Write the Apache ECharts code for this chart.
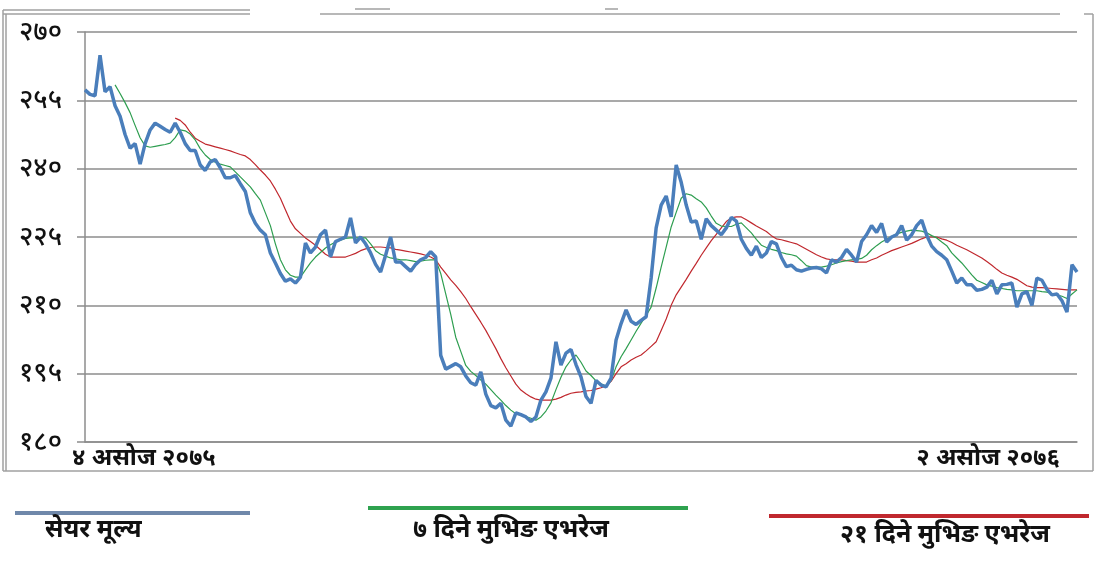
<!DOCTYPE html>
<html>
<head>
<meta charset="utf-8">
<script src="https://cdn.jsdelivr.net/npm/echarts@6/dist/echarts.min.js"></script>
<style>
  html, body { margin: 0; padding: 0; background: #fff; }
  #MyChart { width: 1100px; height: 563px; }
</style>
</head>
<body>
<div id="MyChart"></div>
<script>
// y-axis tick labels (Devanagari numerals)
var yTickLabels = ['१८०', '१९५', '२१०', '२२५', '२४०', '२५५', '२७०'];
// first and last date on the x axis
var xTickLabels = ['४ असोज २०७५', '२ असोज २०७६'];
var seriesNames = ['सेयर मूल्य', '७ दिने मुभिङ एभरेज', '२१ दिने मुभिङ एभरेज'];

// share price
var priceData = [
    257.3, 256.3, 256, 264.9, 256.9, 258, 253.8, 251.5, 247.5, 244.5,
    245.5, 241, 245.5, 248.5, 250, 249.3, 248.6, 248, 250, 248,
    245.5, 244, 244, 240.8, 239.6, 241.5, 242, 240.2, 238, 238,
    238.5, 236.7, 235, 230.3, 228, 226.5, 225.5, 221.5, 219.3, 217,
    215.3, 215.8, 214.9, 216.2, 223.7, 221.5, 222.8, 225.5, 226.5, 220.6,
    224, 224.5, 225, 229.2, 223.7, 225, 223.5, 221.5, 219, 217.3,
    221, 225, 219.5, 219.5, 218.5, 217.5, 219, 220, 220.5, 221.8,
    220.6, 199, 196, 196.6, 197.2, 196.5, 194.5, 193, 192.5, 195.4,
    190.5, 188, 187.5, 188.5, 184.8, 183.5, 186.4, 186, 185.5, 184.5,
    185.5, 189.2, 191, 194, 202, 196.9, 199.5, 200.3, 197, 194.3,
    190, 188.5, 193.5, 192.5, 192.1, 194, 202.4, 206, 209, 206.5,
    205.8, 206.7, 207.5, 216, 227, 232, 234, 229.4, 240.8, 237,
    232, 228.3, 228.5, 224.5, 229, 227.5, 226.5, 225.5, 227, 229.3,
    228.5, 224.5, 222.5, 221, 223, 220.5, 221.5, 224, 223.5, 220.5,
    218.5, 218.8, 217.8, 217.5, 217.9, 218.2, 218.3, 218, 217.1, 220,
    219.5, 220.5, 222.3, 221, 219.5, 224, 225.5, 227.5, 226, 228,
    223.9, 225, 225.5, 227.5, 224.3, 225.5, 227.5, 228.7, 225.4, 223,
    221.8, 221, 220, 217.5, 214.9, 216, 214.5, 214.5, 213.3, 213.5,
    214, 215.5, 212.5, 214.5, 214.6, 214.9, 209.6, 212.5, 213, 210,
    216, 215.5, 213.5, 212.3, 212.5, 211, 208.5, 218.9, 217.3
];

// 7 day moving average
var ma7Data = [
    null, null, null, null, null, null, 258.4, 256.5, 254.5, 252.3,
    249.5, 246.8, 245, 244.7, 244.9, 245.1, 245.3, 245.6, 246.8, 248.5,
    248.3, 247.6, 246.3, 244.4, 243, 242, 241.4, 241, 240.7, 240.4,
    239.3, 238.2, 237.1, 236, 234.5, 233.1, 230.3, 227.5, 223.5, 220,
    217.8, 216.6, 216.2, 216.2, 217.8, 219.3, 220.6, 221.6, 222.6, 223.3,
    223.9, 224.3, 224.7, 224.8, 224.8, 224.8, 224.8, 223.5, 222, 221.2,
    220.8, 220.4, 220.2, 220, 220, 219.8, 219.6, 219.7, 219.9, 220,
    220, 217, 212.5, 208, 203, 199.9, 196.8, 195.5, 194.6, 193.6,
    192.7, 191.5, 190.3, 189.2, 188, 187, 186.2, 185.9, 185.6, 185.2,
    184.8, 185.5, 186.8, 188.6, 191.5, 194.2, 196.5, 198, 199.1, 197.5,
    195.6, 194.6, 193.4, 192.8, 192.3, 193.5, 196.5, 198.7, 200.5, 202.4,
    204.3, 206.1, 207.8, 209.6, 213.8, 218.4, 222.8, 227.2, 230.4, 233.5,
    234.5, 234.2, 233.4, 232.7, 231.4, 229.6, 228, 227.4, 227.3, 227.3,
    227.8, 228.1, 227, 225.9, 224.5, 223.2, 222.7, 222.3, 222, 221.6,
    221.3, 221.1, 220.8, 219.8, 218.7, 218.4, 218.4, 218.4, 218.6, 218.9,
    219.3, 219.6, 219.8, 220, 220.1, 220.3, 221, 222.2, 223.1, 223.9,
    224.5, 225.1, 225.7, 226, 226.3, 226.5, 226.4, 226.3, 225.9, 225.3,
    224.8, 223.9, 223.1, 221.5, 220.4, 219.3, 218, 216.7, 215.5, 215,
    214.5, 214.2, 213.9, 213.7, 213.5, 213.4, 213.2, 213.2, 213.2, 213.2,
    213.2, 213, 212.9, 212.6, 212.3, 212, 211.5, 212.5, 213.4
];

// 21 day moving average
var ma21Data = [
    null, null, null, null, null, null, null, null, null, null,
    null, null, null, null, null, null, null, null, 251.1, 250.6,
    249.6, 248, 246.7, 246, 245.4, 245.1, 244.8, 244.5, 244.2, 243.9,
    243.5, 243.1, 242.8, 242, 240.9, 239.7, 238.6, 237.3, 235.5, 233.5,
    231, 228.5, 226.8, 225.8, 224.8, 224, 223.2, 222.2, 221.2, 220.6,
    220.6, 220.6, 220.6, 221, 221.4, 222, 222.4, 222.7, 222.8, 222.8,
    222.7, 222.6, 222.3, 222.1, 221.9, 221.7, 221.5, 221.3, 221, 220.6,
    220, 218.4, 217, 215.6, 214.4, 213, 211.5, 209.7, 208, 206.3,
    204.5, 202.5, 200.5, 198.3, 196.3, 194.5, 192.7, 191.4, 190.6, 189.9,
    189.4, 189.2, 189.2, 189.2, 189.4, 189.8, 190.3, 190.7, 190.9, 191,
    191.2, 191.3, 191.6, 191.9, 192.3, 193.3, 195, 196.5, 197.2, 198,
    198.6, 199.1, 200, 201, 202, 204.5, 207, 210, 212.3, 214,
    215.7, 217.5, 219.2, 221, 222.6, 224.2, 225.6, 227, 228.4, 229.2,
    229.4, 229.4, 228.8, 228.1, 227.4, 226.8, 226.2, 225.3, 224.6, 224.4,
    224.1, 223.8, 223.5, 222.9, 222.3, 221.7, 221.1, 220.6, 220.2, 220,
    220, 220, 219.8, 219.7, 219.5, 219.5, 219.5, 220, 220.4, 221,
    221.5, 222, 222.4, 222.8, 223.2, 223.6, 224.1, 224.6, 225, 225,
    225, 224.6, 224.3, 223.8, 223.2, 222.7, 222.2, 221.6, 221, 220.4,
    219.6, 218.8, 217.9, 217.1, 216.6, 216.2, 215.7, 215, 214.3, 214,
    213.9, 213.9, 213.8, 213.7, 213.6, 213.5, 213.4, 213.4, 213.4
];

// trading days (category axis)
var dayCategories = [];
for (var i = 0; i < priceData.length; i++) {
    dayCategories.push(i + 1);
}

var seriesColors = ['#4a7ebb', '#2e9e50', '#c0282e'];
var fontFamily = "'Noto Sans', 'DejaVu Sans', sans-serif";

var myChart = echarts.init(document.getElementById('MyChart'));

var frameColor = '#a0a0a0';
var option = {
    animation: false,
    backgroundColor: '#fff',
    grid: {
        left: 85,
        right: 23,
        top: 32,
        bottom: 121
    },
    xAxis: {
        type: 'category',
        boundaryGap: false,
        data: dayCategories,
        axisLine: { show: true, lineStyle: { color: '#8c8c8c', width: 1.5 } },
        axisTick: { show: false },
        axisLabel: { show: false },
        splitLine: { show: false }
    },
    yAxis: {
        type: 'value',
        min: 180,
        max: 270,
        interval: 15,
        axisLine: { show: true, lineStyle: { color: '#8c8c8c', width: 1.5 } },
        axisTick: { show: true, inside: false, length: 8, lineStyle: { color: '#8c8c8c', width: 1.5 } },
        axisLabel: {
            margin: 23,
            color: '#111',
            fontSize: 27,
            fontWeight: 500,
            fontFamily: fontFamily,
            formatter: function (value) {
                return yTickLabels[Math.round((value - 180) / 15)];
            }
        },
        splitLine: { show: true, lineStyle: { color: '#8c8c8c', width: 1.5 } }
    },
    series: [
        {
            name: seriesNames[2],
            type: 'line',
            data: ma21Data,
            showSymbol: false,
            lineStyle: { color: seriesColors[2], width: 1.2 },
            z: 2
        },
        {
            name: seriesNames[1],
            type: 'line',
            data: ma7Data,
            showSymbol: false,
            lineStyle: { color: seriesColors[1], width: 1.2 },
            z: 3
        },
        {
            name: seriesNames[0],
            type: 'line',
            data: priceData,
            showSymbol: false,
            lineStyle: { color: seriesColors[0], width: 3.5 },
            z: 4
        }
    ],
    graphic: [
        // chart frame
        { type: 'line', shape: { x1: 3, y1: 10, x2: 250, y2: 10 }, style: { stroke: frameColor, lineWidth: 1.5 } },
        { type: 'line', shape: { x1: 3, y1: 14, x2: 250, y2: 14 }, style: { stroke: frameColor, lineWidth: 1.5 } },
        { type: 'line', shape: { x1: 320, y1: 14, x2: 1060, y2: 14 }, style: { stroke: frameColor, lineWidth: 1.5 } },
        { type: 'line', shape: { x1: 355, y1: 9, x2: 390, y2: 9 }, style: { stroke: frameColor, lineWidth: 1.5 } },
        { type: 'line', shape: { x1: 605, y1: 9, x2: 618, y2: 9 }, style: { stroke: frameColor, lineWidth: 1.5 } },
        { type: 'line', shape: { x1: 1084, y1: 14, x2: 1093, y2: 14 }, style: { stroke: frameColor, lineWidth: 1.5 } },
        { type: 'line', shape: { x1: 1093, y1: 14, x2: 1093, y2: 471 }, style: { stroke: frameColor, lineWidth: 1.5 } },
        { type: 'line', shape: { x1: 3, y1: 10, x2: 3, y2: 471 }, style: { stroke: frameColor, lineWidth: 1.5 } },
        { type: 'line', shape: { x1: 6, y1: 14, x2: 6, y2: 471 }, style: { stroke: frameColor, lineWidth: 1.5 } },
        { type: 'line', shape: { x1: 3, y1: 471, x2: 1093, y2: 471 }, style: { stroke: frameColor, lineWidth: 1.5 } },
        // x axis end labels
        { type: 'text', left: 72, top: 446, style: { text: xTickLabels[0], fill: '#111', font: 'bold 24px ' + fontFamily } },
        { type: 'text', right: 40, top: 446, style: { text: xTickLabels[1], fill: '#111', font: 'bold 24px ' + fontFamily } },
        // legend
        { type: 'line', shape: { x1: 15, y1: 513, x2: 250, y2: 513 }, style: { stroke: '#6f88aa', lineWidth: 4 } },
        { type: 'line', shape: { x1: 368, y1: 508, x2: 688, y2: 508 }, style: { stroke: '#2ea24f', lineWidth: 4 } },
        { type: 'line', shape: { x1: 769, y1: 516, x2: 1089, y2: 516 }, style: { stroke: '#c0282e', lineWidth: 4 } },
        { type: 'text', left: 45, top: 517, style: { text: seriesNames[0], fill: '#111', font: 'bold 25px ' + fontFamily } },
        { type: 'text', left: 413, top: 517, style: { text: seriesNames[1], fill: '#111', font: 'bold 25px ' + fontFamily } },
        { type: 'text', left: 840, top: 522, style: { text: seriesNames[2], fill: '#111', font: 'bold 25px ' + fontFamily } }
    ]
};
myChart.setOption(option);
</script>
</body>
</html>
